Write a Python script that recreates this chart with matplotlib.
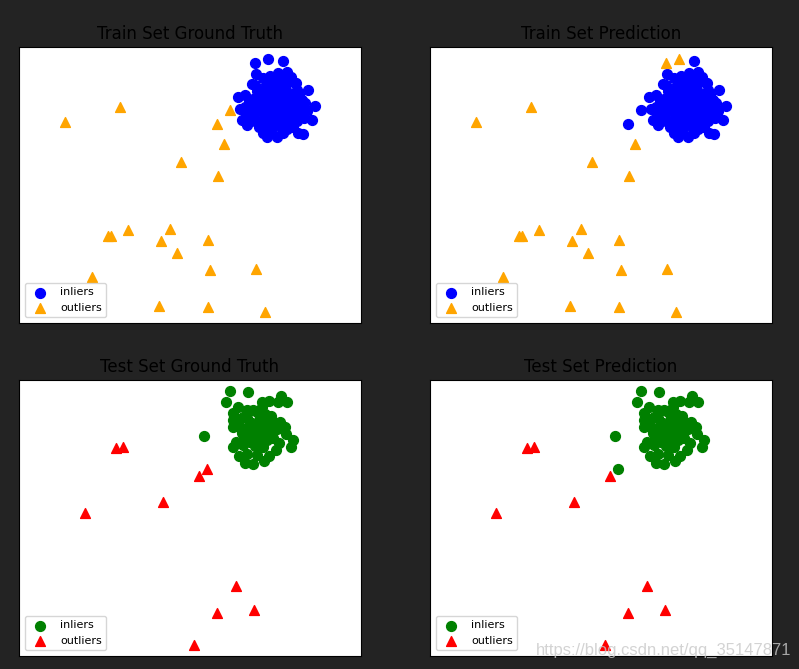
import matplotlib.pyplot as plt
import numpy as np

# puntos (coordenadas dentro de cada panel)
train_inliers = [
    (236, 260), (249, 264), (264, 262), (268, 251), (237, 249), (259, 250), (251, 247),
    (244, 245), (233, 239), (277, 240), (289, 233), (219, 226), (221, 214), (296, 217),
    (293, 203), (283, 223), (284, 216), (282, 207), (223, 203), (228, 198), (248, 186),
    (253, 190), (264, 190), (279, 190), (284, 189), (274, 196), (239, 200), (278, 233),
    (245, 230), (255, 235), (265, 238), (240, 220), (250, 225), (260, 228), (270, 230),
    (275, 222), (232, 215), (242, 212), (252, 215), (262, 218), (272, 214), (280, 210),
    (236, 205), (246, 205), (256, 208), (266, 206), (274, 203), (240, 196), (250, 198),
    (260, 197), (268, 194), (258, 186), (244, 190), (230, 222), (248, 240), (258, 242),
    (268, 240), (238, 232), (262, 210), (254, 200), (234, 210), (226, 228), (285, 205),
    (270, 200), (249, 208), (257, 222), (247, 218), (265, 225), (276, 240), (236, 238),
    (272, 246), (264, 246), (228, 208), (288, 212),
    (243, 225), (253, 230), (263, 232), (273, 226), (238, 214), (247, 212), (257, 214),
    (267, 212), (277, 216), (242, 200), (252, 204), (262, 202), (272, 206), (234, 224),
    (256, 218), (266, 220), (246, 236), (256, 238), (280, 228), (286, 220), (261, 224),
    (250, 192), (232, 202), (270, 218), (278, 202), (226, 216),
]
train_outliers = [
    (46, 201), (101, 216), (198, 199), (211, 213), (205, 179), (162, 161), (199, 147),
    (89, 87), (92, 87), (109, 93), (151, 94), (142, 82), (189, 83), (158, 70),
    (191, 53), (237, 54), (73, 46), (140, 17), (189, 16), (246, 11),
]
test_inliers = [
    (211, 265), (229, 264), (207, 254), (219, 249), (214, 243), (228, 246), (234, 246),
    (243, 254), (250, 255), (243, 249), (262, 260), (259, 254), (268, 254), (185, 220),
    (214, 236), (214, 229), (228, 238), (241, 238), (246, 236), (254, 234), (261, 234),
    (266, 229), (258, 227), (267, 222), (274, 216), (272, 209), (260, 213), (257, 206),
    (250, 200), (245, 195), (234, 192), (226, 193), (220, 200), (228, 202), (238, 201),
    (214, 209), (217, 214), (224, 211), (231, 214), (244, 209), (248, 216), (241, 221),
    (234, 226), (223, 223), (229, 229), (221, 229), (250, 224), (254, 218), (239, 229),
    (248, 230), (224, 239), (236, 220), (244, 226), (230, 218), (252, 240), (238, 244),
    (220, 236), (236, 210), (242, 215), (226, 218), (233, 233), (246, 242),
]
test_outliers = [
    (66, 143), (97, 208), (104, 209), (180, 180), (188, 187), (144, 154),
    (217, 70), (198, 43), (235, 46), (175, 11),
]

X_train = np.array(train_inliers + train_outliers, dtype=float)
y_train = np.array([0] * len(train_inliers) + [1] * len(train_outliers))
X_test = np.array(test_inliers + test_outliers, dtype=float)
y_test = np.array([0] * len(test_inliers) + [1] * len(test_outliers))

# etiquetas predichas: copia de la verdad con los errores vistos en la figura
y_train_pred = y_train.copy()
y_train_pred[[0, 1]] = 1
y_train_pred[[len(train_inliers) + 2, len(train_inliers) + 3]] = 0
y_test_pred = y_test.copy()
y_test_pred[len(test_inliers) + 4] = 0


def panel(ax, X, y, c_in, c_out, title):
    ax.scatter(X[y == 0, 0], X[y == 0, 1], c=c_in, marker='o', s=50, label='inliers')
    ax.scatter(X[y == 1, 0], X[y == 1, 1], c=c_out, marker='^', s=50, label='outliers')
    ax.set_xlim(0, 342)
    ax.set_ylim(0, 276)
    ax.set_xticks([])
    ax.set_yticks([])
    ax.set_title(title, fontsize=12, color='black')
    ax.legend(loc=3, fontsize=8)


fig = plt.figure(figsize=(7.99, 6.69), dpi=100, facecolor='#232323')
w, h = 342 / 799, 276 / 669
ax1 = fig.add_axes([19 / 799, 1 - 323 / 669, w, h])
ax2 = fig.add_axes([430 / 799, 1 - 323 / 669, w, h])
ax3 = fig.add_axes([19 / 799, 1 - 656 / 669, w, h])
ax4 = fig.add_axes([430 / 799, 1 - 656 / 669, w, h])

panel(ax1, X_train, y_train, 'blue', 'orange', 'Train Set Ground Truth')
panel(ax2, X_train, y_train_pred, 'blue', 'orange', 'Train Set Prediction')
panel(ax3, X_test, y_test, 'green', 'red', 'Test Set Ground Truth')
panel(ax4, X_test, y_test_pred, 'green', 'red', 'Test Set Prediction')

fig.text(0.99, 0.028, 'https://blog.csdn.net/qq_35147871', ha='right', va='center',
         fontsize=12, family='Liberation Sans', color='#c8c8c8', alpha=0.8, zorder=10)

plt.savefig('out.png', dpi=100, facecolor=fig.get_facecolor())
